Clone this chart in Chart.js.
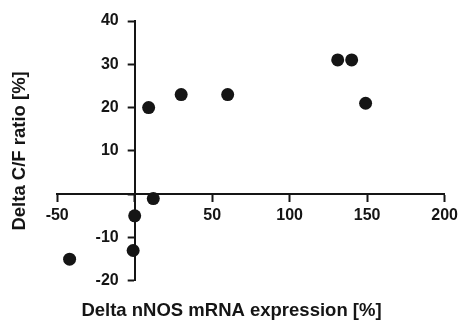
<!DOCTYPE html>
<html>
<head>
<meta charset="utf-8">
<script src="https://cdn.jsdelivr.net/npm/chart.js@4"></script>
<style>
  html, body { margin: 0; padding: 0; background: #fff; }
  #wrap { width: 463px; height: 322px; }
</style>
</head>
<body>
<div id="wrap"><canvas id="chart"></canvas></div>
<script>
// valores
const nnosDelta = [-42, -1, 0, 12, 9, 30, 60, 131, 140, 149];
const cfDelta = [-15, -13, -5, -1, 20, 23, 23, 31, 31, 21];

const xTicks = [-50, 0, 50, 100, 150, 200];
const yTicks = [-20, -10, 0, 10, 20, 30, 40];

const xTitle = "Delta nNOS mRNA expression [%]";
const yTitle = "Delta C/F ratio [%]";

const ink = "#151515";
const fontFam = "'Liberation Sans', Arial, sans-serif";

// esconde o rótulo do zero, onde os eixos se cruzam
const hideZero = (v) => (v === 0 ? "" : v);

const points = nnosDelta.map((x, i) => ({ x: x, y: cfDelta[i] }));

// coloca o eixo Y em x = 0 depois do layout
const moveYAxis = {
  id: "moveYAxis",
  afterLayout(chart) {
    const y = chart.scales.y;
    const x0 = chart.scales.x.getPixelForValue(0);
    y.left = 0; // área dos rótulos (senão são cortados)
    y.right = x0;
  },
};

new Chart(document.getElementById("chart"), {
  type: "scatter",
  data: {
    datasets: [
      {
        data: points,
        backgroundColor: ink,
        borderWidth: 0,
        pointRadius: 6.5,
        pointHoverRadius: 6.5,
      },
    ],
  },
  options: {
    responsive: true,
    maintainAspectRatio: false,
    animation: false,
    layout: { padding: { top: 21, right: 0, left: 0, bottom: 0 } },
    plugins: {
      legend: { display: false },
      tooltip: { enabled: false },
      title: {
        display: true,
        position: "bottom",
        text: xTitle,
        color: ink,
        font: { family: fontFam, size: 18.5, weight: "bold" },
        padding: { top: 19, bottom: 0 },
      },
      subtitle: {
        display: true,
        position: "left",
        fullSize: false,
        text: yTitle,
        color: ink,
        font: { family: fontFam, size: 18.5, weight: "bold" },
        padding: { top: 9, bottom: 26 },
      },
    },
    scales: {
      x: {
        type: "linear",
        position: { y: 0 },
        min: -50,
        max: 200,
        afterBuildTicks: (s) => {
          s.ticks = xTicks.map((v) => ({ value: v }));
        },
        afterFit: (s) => {
          s.height = 0;
        },
        grid: { drawOnChartArea: false, tickLength: 7, tickWidth: 2, color: ink },
        border: { display: true, width: 2, color: ink },
        ticks: {
          color: ink,
          padding: 5,
          maxRotation: 0,
          font: { family: fontFam, size: 16, weight: "bold" },
          callback: hideZero,
        },
      },
      y: {
        type: "linear",
        position: "left",
        min: -20,
        max: 40,
        afterBuildTicks: (s) => {
          s.ticks = yTicks.map((v) => ({ value: v }));
        },
        afterFit: (s) => {
          s.width = 0;
        },
        grid: { drawOnChartArea: false, tickLength: 7, tickWidth: 2, color: ink },
        border: { display: true, width: 2, color: ink },
        ticks: {
          color: ink,
          padding: 9,
          font: { family: fontFam, size: 16, weight: "bold" },
          callback: hideZero,
        },
      },
    },
  },
  plugins: [moveYAxis],
});
</script>
</body>
</html>
